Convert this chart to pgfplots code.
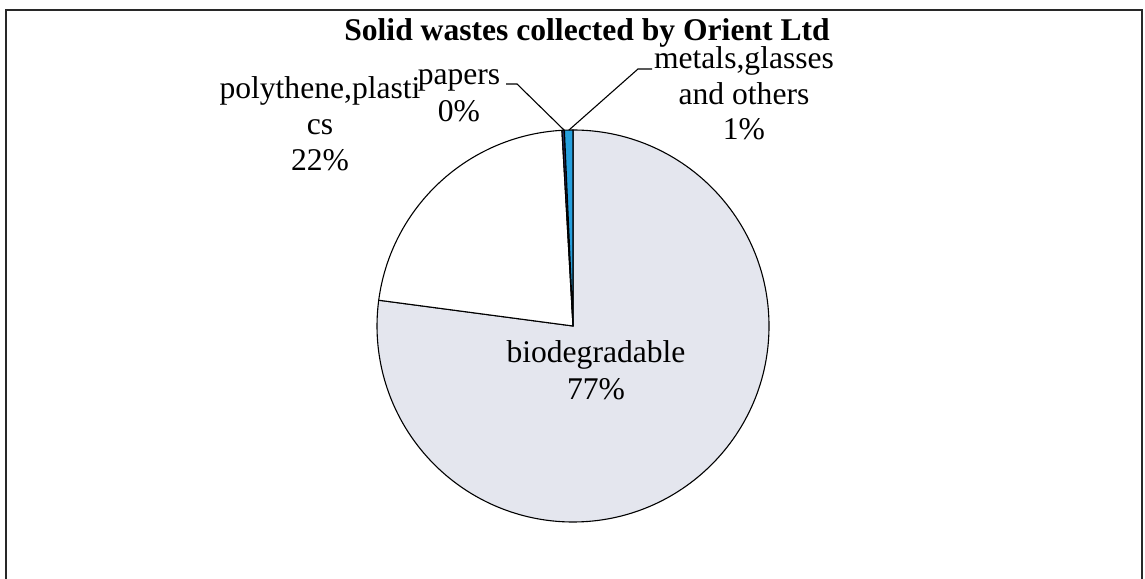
\documentclass[border=0pt]{standalone}
\usepackage{fontspec}
\setmainfont{Liberation Serif}
\usepackage{pgfplots}
\usepackage{pgfplotstable}
\pgfplotsset{compat=1.18}
\definecolor{biogray}{RGB}{228,230,238}
\definecolor{metblue}{RGB}{38,160,222}
\definecolor{papcol}{RGB}{40,40,90}
\definecolor{framecol}{RGB}{40,40,40}

\pgfplotstableread{
name value
biodegradable 77.1
polythene 22.0
papers 0.2
metals 0.7
}\piedata

\begin{document}
\begin{tikzpicture}
\pgfplotstablegetelem{0}{value}\of\piedata \let\va\pgfplotsretval
\pgfplotstablegetelem{1}{value}\of\piedata \let\vb\pgfplotsretval
\pgfplotstablegetelem{2}{value}\of\piedata \let\vc\pgfplotsretval
\pgfplotstablegetelem{3}{value}\of\piedata \let\vd\pgfplotsretval
\pgfmathsetmacro\aZero{90}
\pgfmathsetmacro\aA{\aZero-3.6*\va}
\pgfmathsetmacro\aB{\aA-3.6*\vb}
\pgfmathsetmacro\aC{\aB-3.6*\vc}
\pgfmathsetmacro\aD{\aC-3.6*\vd}
\path[use as bounding box] (0,0) rectangle (1145pt,578pt);
\begin{axis}[
  x=1pt, y=1pt,
  xmin=0, xmax=1145, ymin=0, ymax=578,
  scale only axis, hide axis, clip=false,
  at={(0,0)}, anchor=origin,
]
\def\R{196pt}
% frame
\draw[framecol, line width=1.6pt] (axis cs:6,-20) -- (axis cs:6,568) -- (axis cs:1142,568) -- (axis cs:1142,-20);
% slices
\filldraw[fill=biogray, draw=black, line width=1.1pt] (axis cs:573,252) -- ++(\aZero:\R) arc[start angle=\aZero, end angle=\aA, radius=\R] -- cycle;
\filldraw[fill=white, draw=black, line width=1.1pt] (axis cs:573,252) -- ++(\aA:\R) arc[start angle=\aA, end angle=\aB, radius=\R] -- cycle;
\filldraw[fill=papcol, draw=black, line width=1.1pt] (axis cs:573,252) -- ++(\aB:\R) arc[start angle=\aB, end angle=\aC, radius=\R] -- cycle;
\filldraw[fill=metblue, draw=black, line width=1.1pt] (axis cs:573,252) -- ++(\aC:\R) arc[start angle=\aC, end angle=\aD, radius=\R] -- cycle;
% leader lines
\draw[black, line width=1.1pt] (axis cs:506,494) -- (axis cs:517,494) -- (axis cs:564,448);
\draw[black, line width=1.1pt] (axis cs:652,509) -- (axis cs:638,509) -- (axis cs:569,448);
% title
\node[anchor=base, inner sep=0pt, text depth=0pt, font=\fontsize{31.6}{36}\selectfont\bfseries] at (axis cs:587,537) {Solid wastes collected by Orient Ltd};
% labels
\begin{scope}[every node/.style={anchor=base, inner sep=0pt, font=\fontsize{31.6}{36}\selectfont}]
\node at (axis cs:320,479) {polythene,plasti};
\node at (axis cs:320,443) {cs};
\node at (axis cs:320,407) {22\%};
\node at (axis cs:459,493) {papers};
\node at (axis cs:459,456) {0\%};
\node at (axis cs:744,509) {metals,glasses};
\node at (axis cs:744,473) {and others};
\node at (axis cs:744,438) {1\%};
\node at (axis cs:596,215) {biodegradable};
\node at (axis cs:596,178) {77\%};
\end{scope}
\end{axis}
\end{tikzpicture}
\end{document}
